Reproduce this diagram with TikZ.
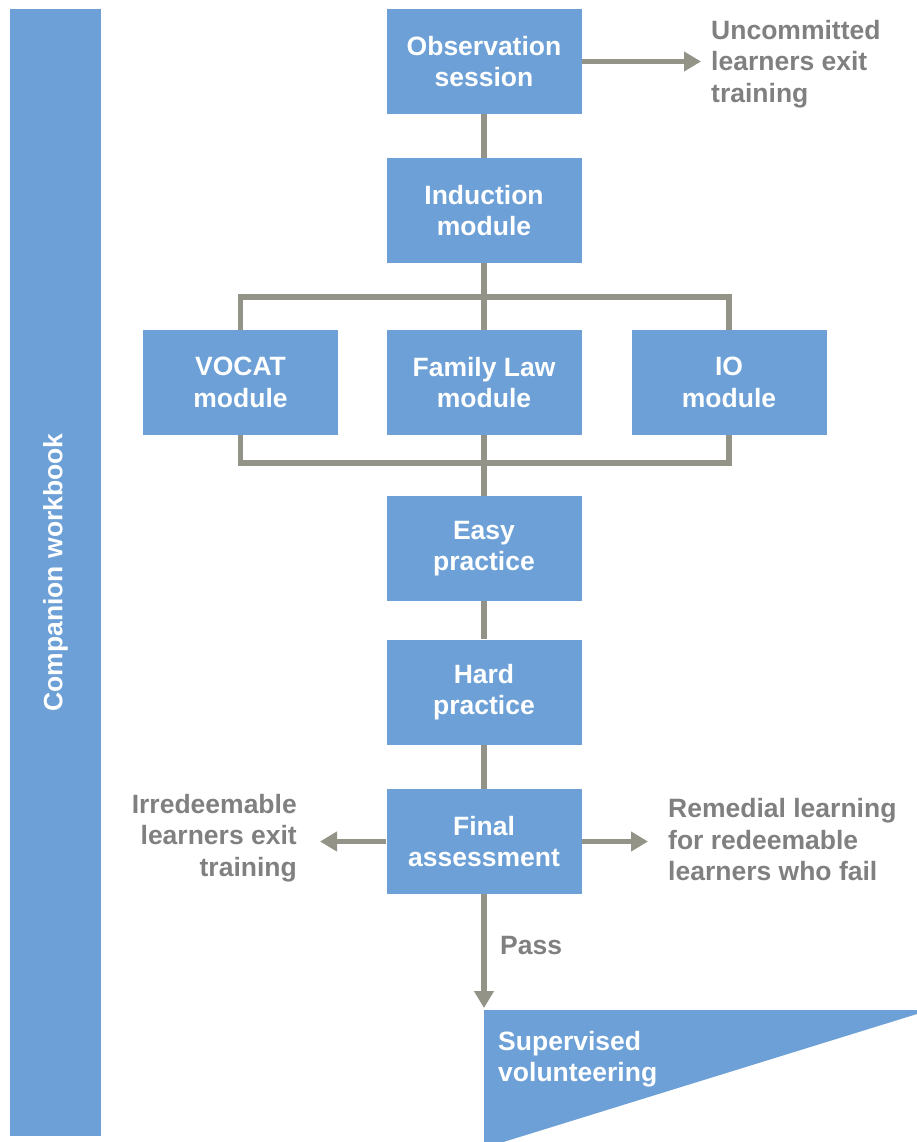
\documentclass[tikz,border=0pt]{standalone}
\usepackage{fontspec}
\setmainfont{Liberation Sans}
\usetikzlibrary{arrows.meta}
\definecolor{boxblue}{RGB}{108,160,214}
\definecolor{linegray}{RGB}{147,148,135}
\definecolor{textgray}{RGB}{128,128,128}
\begin{document}
\begin{tikzpicture}[x=1pt,y=-1pt,
  labelfont/.style={font=\bfseries\fontsize{26.5}{31.5}\selectfont},
  stage/.style={labelfont, fill=boxblue, text=white, minimum width=195pt,
    minimum height=105pt, inner sep=0pt, align=center},
  note/.style={labelfont, text=textgray, inner sep=0pt},
  link/.style={draw=linegray, line width=5.5pt},
  flow/.style={link, -{Triangle[length=17pt,width=19pt]}}]
\useasboundingbox (0,0) rectangle (917,1142);

% side bar
\node[labelfont, fill=boxblue, text=white, minimum width=1127pt,
  minimum height=91pt, inner sep=0pt, rotate=90] (side) at (55.5,572.5)
  {Companion workbook};

% stages
\node[stage] (obs)  at (484,61.5)  {Observation\\session};
\node[stage] (ind)  at (484,210.5) {Induction\\module};
\node[stage] (voc)  at (240.5,382.5) {VOCAT\\module};
\node[stage] (fam)  at (484,382.5) {Family Law\\module};
\node[stage] (ioc)  at (729,382.5) {IO\\module};
\node[stage] (easy) at (484,548.5) {Easy\\practice};
\node[stage] (hard) at (484,692) {Hard\\practice};
\node[stage] (fin)  at (484,841.5) {Final\\assessment};

% final stage shape
\begin{scope}
\clip (0,0) rectangle (917,1142);
\fill[boxblue] (484,1010) -- (917,1010) -- (917,1014) -- (484,1148) -- cycle;
\end{scope}
\coordinate (sv) at (484,1008);
\node[labelfont, text=white, inner sep=0pt, align=left, anchor=west]
  (svtext) at (498,1059) {Supervised\\volunteering};

% side notes
\node[note, align=left, anchor=west] (unc) at (711,64) {Uncommitted\\learners exit\\training};
\node[note, align=right, anchor=east] (irr) at (297,838) {Irredeemable\\learners exit\\training};
\node[note, align=left, anchor=west] (rem) at (668,840) {Remedial learning\\for redeemable\\learners who fail};
\node[note, anchor=west] (pass) at (500,946) {Pass};

\coordinate (uncEnd) at (701,61.5);
\coordinate (irrEnd) at (320,841.5);
\coordinate (remEnd) at (648,841.5);

% connectors
\draw[link] (obs) -- (ind);
\draw[link] (ind) -- (fam);
\draw[link] (voc.north) -- ++(0,-33) -| (ioc.north);
\draw[link] (voc.south) -- ++(0,28) -| (ioc.south);
\draw[link] (fam) -- (easy);
\draw[link] (easy) -- (hard);
\draw[link] (hard) -- (fin);
\draw[flow] (obs.east) -- (uncEnd);
\draw[flow] (fin.west) -- (irrEnd);
\draw[flow] (fin.east) -- (remEnd);
\draw[flow] (fin.south) -- (sv);
\end{tikzpicture}
\end{document}
